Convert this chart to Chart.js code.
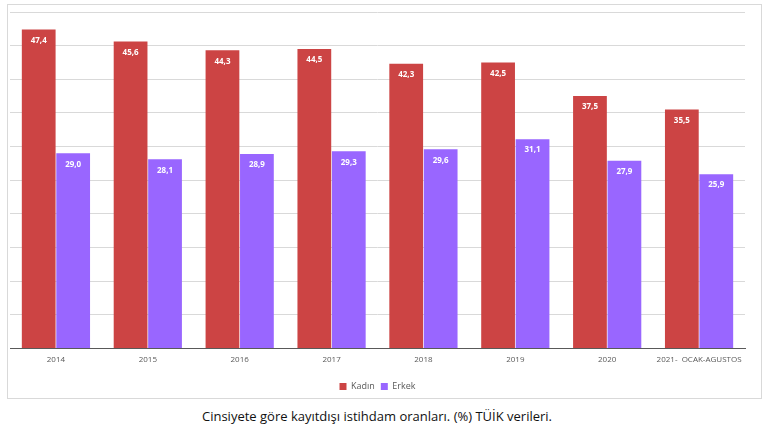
<!DOCTYPE html>
<html>
<head>
<meta charset="utf-8">
<script src="https://cdn.jsdelivr.net/npm/chart.js@4"></script>
<style>
  body { margin: 0; background: #fff; width: 770px; height: 433px; position: relative; overflow: hidden; }
  #box { position: absolute; left: 7px; top: 4px; width: 753px; height: 393px; border: 1px solid #d9d9d9; }
  #chart { position: absolute; left: 0; top: 0; }
  #caption { position: absolute; left: 0; width: 754px; top: 407px; text-align: center;
    font-family: "Open Sans", sans-serif; font-size: 13px; color: #111; }
</style>
</head>
<body>
<div id="box"><canvas id="chart" width="753" height="396"></canvas></div>
<div id="caption">Cinsiyete göre kayıtdışı istihdam oranları. (%) TÜİK verileri.</div>
<script>
var years = ["2014", "2015", "2016", "2017", "2018", "2019", "2020", "2021-  OCAK-AGUSTOS"];
var kadin = [47.4, 45.6, 44.3, 44.5, 42.3, 42.5, 37.5, 35.5];
var erkek = [29.0, 28.1, 28.9, 29.3, 29.6, 31.1, 27.9, 25.9];

// white value labels inside the top of each bar
var barLabels = {
  id: "barLabels",
  afterDatasetsDraw: function (chart) {
    var ctx = chart.ctx;
    ctx.save();
    ctx.fillStyle = "#ffffff";
    ctx.font = "bold 8px 'Open Sans', sans-serif";
    ctx.textAlign = "center";
    ctx.textBaseline = "middle";
    chart.data.datasets.forEach(function (ds, i) {
      chart.getDatasetMeta(i).data.forEach(function (bar, j) {
        ctx.fillText(ds.data[j].toFixed(1).replace(".", ","), bar.x, bar.y + 11);
      });
    });
    ctx.restore();
  }
};

new Chart(document.getElementById("chart"), {
  type: "bar",
  data: {
    labels: years,
    datasets: [
      { label: "Kadın", data: kadin, backgroundColor: "#cc4444" },
      { label: "Erkek", data: erkek, backgroundColor: "#9966ff" }
    ]
  },
  options: {
    responsive: false,
    animation: false,
    layout: { padding: { left: 2, right: 16, top: 7, bottom: 0 } },
    datasets: { bar: { categoryPercentage: 0.75, barPercentage: 0.98 } },
    scales: {
      x: {
        grid: { display: false, drawTicks: false },
        border: { color: "#595959", width: 1 },
        ticks: { color: "#595959", font: { size: 8, family: "'Open Sans', sans-serif" }, padding: 7, maxRotation: 0, autoSkip: false },
        afterFit: function (scale) { scale.height += 4; }
      },
      y: {
        min: 0, max: 50,
        ticks: { display: false, stepSize: 5 },
        grid: { color: "#d9d9d9", drawTicks: false },
        border: { display: false }
      }
    },
    plugins: {
      legend: {
        position: "bottom",
        labels: { boxWidth: 7, boxHeight: 7, color: "#595959", font: { size: 9, family: "'Open Sans', sans-serif" }, padding: 6 }
      },
      tooltip: { enabled: false }
    }
  },
  plugins: [barLabels]
});
</script>
</body>
</html>
